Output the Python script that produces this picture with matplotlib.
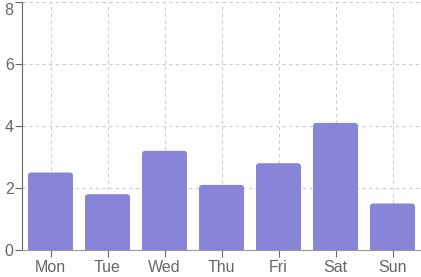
import matplotlib
matplotlib.use("Agg")
import matplotlib.pyplot as plt
import matplotlib.transforms as mtransforms
from matplotlib.patches import FancyBboxPatch, Rectangle

days = ["Mon", "Tue", "Wed", "Thu", "Fri", "Sat", "Sun"]
values = [2.5, 1.8, 3.2, 2.1, 2.8, 4.1, 1.5]
y_ticks = [0, 2, 4, 6, 8]

BAR_COLOR = "#8884d8"
AXIS_COLOR = "#666666"

plt.rcParams["font.family"] = ["Liberation Sans", "DejaVu Sans"]

fig = plt.figure(figsize=(4.21, 2.77), dpi=100)
ax = fig.add_axes([22 / 421, 1 - 250 / 277, 1 - 22 / 421, 248 / 277])

ax.set_xlim(-0.5, len(days) - 0.5)
ax.set_ylim(0, 8)

# grid first so bars sit on top
ax.set_axisbelow(True)
ax.grid(True, color="#cccccc", linestyle=(0, (3, 3)), linewidth=0.8)

# bars with rounded top corners
width = 0.79
radius_x = 0.06
aspect = (8 / 248) / (7 / 399)  # data-y per data-x at equal pixel size
for i, v in enumerate(values):
    x0 = i - width / 2
    top = FancyBboxPatch((x0, 0), width, v,
                         boxstyle="round,pad=0,rounding_size=%f" % radius_x,
                         mutation_aspect=aspect,
                         facecolor=BAR_COLOR, edgecolor="none", zorder=2)
    ax.add_patch(top)
    # square off bottom corners
    ax.add_patch(Rectangle((x0, 0), width, v / 2, facecolor=BAR_COLOR,
                           edgecolor="none", zorder=2))

ax.set_xticks(range(len(days)))
ax.set_xticklabels(days)
ax.set_yticks(y_ticks)

for side in ["top", "right"]:
    ax.spines[side].set_visible(False)
ax.spines["left"].set_color(AXIS_COLOR)
ax.spines["bottom"].set_color("#999999")
ax.spines["left"].set_zorder(3)
ax.spines["bottom"].set_zorder(3)

ax.tick_params(axis="both", colors=AXIS_COLOR, labelsize=11.5, length=5,
               width=0.8, pad=2)
ax.tick_params(axis="y", pad=1)

# top label is pushed down so it stays inside the picture
top_label = ax.get_yticklabels()[-1]
top_label.set_transform(top_label.get_transform() +
                        mtransforms.ScaledTranslation(0, -5 / 72, fig.dpi_scale_trans))

fig.savefig("out.png", dpi=100)
